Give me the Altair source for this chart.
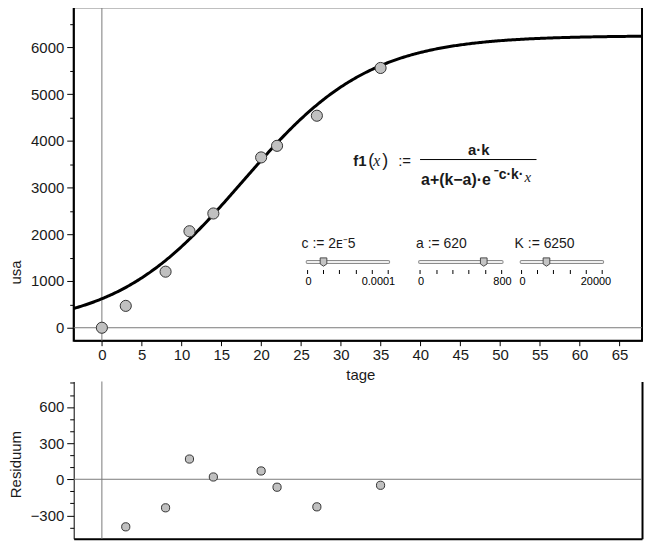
import altair as alt
import numpy as np
import pandas as pd

# ---------------- data ----------------
tage = [0, 3, 8, 11, 14, 20, 22, 27, 35]
usa = [0, 468, 1200, 2065, 2445, 3645, 3893, 4537, 5559]
res_tage = [3, 8, 11, 14, 20, 22, 27, 35]
residuum = [-395, -237, 168, 19, 69, -66, -229, -50]

param_names = ["c", "a", "K"]
param_values = [2e-5, 620, 6250]
param_text = ["2ᴇ⁻5", "620", "6250"]
slider_min = [0, 0, 0]
slider_max = [0.0001, 800, 20000]
slider_max_text = ["0.0001", "800", "20000"]

x_tick_values = list(range(0, 70, 5))
usa_tick_values = list(range(0, 7000, 500))
res_tick_values = list(range(-400, 900, 100))

x_domain = [-3.54, 67.835]
usa_domain = [-277, 6858]
res_domain = [-494, 812]

# model curve f1(x) = a*k / (a + (k-a) * e^(-c*k*x)) with the slider values
c_, a_, k_ = param_values
curve_x = np.linspace(x_domain[0], x_domain[1], 400)
curve_y = a_ * k_ / (a_ + (k_ - a_) * np.exp(-c_ * k_ * curve_x))

# ---------------- layout / style ----------------
F = "Liberation Sans"
SERIF = "Liberation Serif"
TXT = "#1a1a1a"
W, H1, H2, GAP = 571, 335, 158, 41
OX, OY = 72, 8  # page position of the upper plot's top-left corner


def px(xi):
    return round(xi - OX)


def py(yi):
    return round(yi - OY)


def label(s, xi, yi, size=15, weight="normal", font=F, style="normal", align="left", color=TXT):
    return alt.Chart(pd.DataFrame({"t": [s]})).mark_text(
        font=font, fontSize=size, fontWeight=weight, fontStyle=style,
        align=align, baseline="middle", color=color
    ).encode(x=alt.value(px(xi)), y=alt.value(py(yi)), text="t:N")


xscale = alt.Scale(domain=x_domain, nice=False, zero=False)
yscale1 = alt.Scale(domain=usa_domain, nice=False, zero=False)
yscale2 = alt.Scale(domain=res_domain, nice=False, zero=False)

xaxis_top = alt.Axis(
    values=x_tick_values, format="d", title="tage", grid=False,
    domainColor="black", domainWidth=1, tickColor="black", tickSize=5, tickWidth=1,
    labelFont=F, labelFontSize=15, labelColor=TXT, labelPadding=2,
    labelFlush=False, labelOverlap=False,
    titleFont=F, titleFontSize=15, titleFontWeight="normal", titleColor=TXT,
    titleX=288, titleY=34, titleBaseline="middle", titleAlign="center",
)
yaxis_top = alt.Axis(
    values=usa_tick_values, format="d", title="usa", grid=False,
    labelExpr="datum.value % 1000 === 0 ? datum.label : ''",
    domainColor="black", domainWidth=1, tickColor="black", tickSize=7, tickWidth=1,
    tickDash={"condition": {"test": "datum.value % 1000 !== 0", "value": [4, 20]}, "value": [20, 0]},
    labelFont=F, labelFontSize=15, labelColor=TXT, labelPadding=3, labelOverlap=False,
    titleFont=F, titleFontSize=15, titleFontWeight="normal", titleColor=TXT,
    titleX=-58, titleY=266, titleBaseline="middle", titleAlign="center",
)
xaxis_bot = alt.Axis(
    labels=False, ticks=False, grid=False, title=None,
    domainColor="black", domainWidth=2,
)
yaxis_bot = alt.Axis(
    values=res_tick_values, grid=False, title="Residuum",
    labelExpr="datum.value % 300 === 0 ? replace(format(datum.value, 'd'), '-', '\u2212') : ''",
    domainColor="black", domainWidth=1, tickColor="black", tickSize=7, tickWidth=1,
    tickDash={"condition": {"test": "datum.value % 300 !== 0", "value": [4, 20]}, "value": [20, 0]},
    labelFont=F, labelFontSize=15, labelColor=TXT, labelPadding=3, labelOverlap=False,
    titleFont=F, titleFontSize=15, titleFontWeight="normal", titleColor=TXT,
    titleX=-58, titleY=83, titleBaseline="middle", titleAlign="center",
)
yaxis_right = alt.Axis(
    orient="right", labels=False, ticks=False, grid=False, title=None,
    domainColor="black", domainWidth=2,
)

zero = pd.DataFrame({"v": [0]})

# ---------------- upper panel ----------------
vline = alt.Chart(zero).mark_rule(color="#7a7a7a", strokeWidth=1).encode(
    x=alt.X("v:Q", scale=xscale, axis=xaxis_top))
hline = alt.Chart(zero).mark_rule(color="#7a7a7a", strokeWidth=1).encode(
    y=alt.Y("v:Q", scale=yscale1, axis=yaxis_top))
curve = alt.Chart(pd.DataFrame({"x": curve_x, "y": curve_y})).mark_line(
    color="black", strokeWidth=3, clip=True
).encode(
    x=alt.X("x:Q", scale=xscale, axis=xaxis_top),
    y=alt.Y("y:Q", scale=yscale1, axis=yaxis_top),
)
pts = alt.Chart(pd.DataFrame({"tage": tage, "usa": usa})).mark_circle(
    size=125, fill="#c0c0c0", stroke="#333333", strokeWidth=1, opacity=1
).encode(
    x=alt.X("tage:Q", scale=xscale, axis=xaxis_top),
    y=alt.Y("usa:Q", scale=yscale1, axis=yaxis_top),
)
# invisible anchor fixing the left edge of the drawing 64 px left of the axis
anchor = alt.Chart(zero).mark_rule(opacity=0).encode(
    x=alt.value(-64), y=alt.value(100), y2=alt.value(101))

# formula
formula = [
    label("f1", 353, 162, 15, "bold"),
    label("(", 368, 162, 18),
    label("x", 373, 162, 16, font=SERIF, style="italic"),
    label(")", 382, 162, 18),
    label(":=", 398, 162, 15),
    label("a·k", 479, 151, 15, "bold", align="center"),
    alt.Chart(zero).mark_rule(color="black", strokeWidth=1).encode(
        x=alt.value(px(420)), x2=alt.value(px(537)), y=alt.value(py(161))),
    label("a+(k−a)·e", 421, 182, 16, "bold"),
    label("⁻c·k·", 494, 177, 14, "bold"),
    label("x", 525, 179, 15, font=SERIF, style="italic"),
]

# sliders
track_x0 = [306.7, 420.3, 521.7]
track_len = 81.7
name_x = [301, 416, 515]
max_right = [395, 511.7, 611.7]
track_y, tick_y0, tick_y1, num_y, name_y = 263.7, 272, 276, 284, 246
thumb_path = "M-0.8,-1 L0.8,-1 L0.8,0.45 L0,1 L-0.8,0.45 Z"
sliders = []
for i in range(3):
    x0 = track_x0[i]
    sliders.append(label(f"{param_names[i]}  := {param_text[i]}", name_x[i], name_y, 14))
    sliders.append(alt.Chart(zero).mark_rule(color="#8c8c8c", strokeWidth=4, strokeCap="round").encode(
        x=alt.value(px(x0)), x2=alt.value(px(x0 + track_len)), y=alt.value(py(track_y))))
    sliders.append(alt.Chart(zero).mark_rule(color="#efefef", strokeWidth=2, strokeCap="round").encode(
        x=alt.value(px(x0)), x2=alt.value(px(x0 + track_len)), y=alt.value(py(track_y))))
    tdf = pd.DataFrame({"p": [px(x0 + j * track_len / 5) for j in range(6)]})
    sliders.append(alt.Chart(tdf).mark_rule(color="black", strokeWidth=1).encode(
        x=alt.X("p:Q", scale=None, axis=None), y=alt.value(py(tick_y0)), y2=alt.value(py(tick_y1))))
    frac = (param_values[i] - slider_min[i]) / (slider_max[i] - slider_min[i])
    sliders.append(alt.Chart(zero).mark_point(
        shape=thumb_path, size=70, filled=True, fill="#c4c4c4", stroke="#4a4a4a", strokeWidth=1, opacity=1
    ).encode(x=alt.value(px(x0 + frac * track_len)), y=alt.value(py(track_y))))
    sliders.append(label("0", x0 + 1, num_y, 11, align="center", color="black"))
    sliders.append(label(slider_max_text[i], max_right[i], num_y, 11, align="right", color="black"))

top = alt.layer(vline, hline, curve, pts, anchor, *formula, *sliders).properties(
    width=W, height=H1, view=alt.ViewBackground(stroke="black", strokeWidth=2)
)

# ---------------- residual panel ----------------
vline2 = alt.Chart(zero).mark_rule(color="#7a7a7a", strokeWidth=1).encode(
    x=alt.X("v:Q", scale=xscale, axis=xaxis_bot))
hline2 = alt.Chart(zero).mark_rule(color="#7a7a7a", strokeWidth=1).encode(
    y=alt.Y("v:Q", scale=yscale2, axis=None))
rpts = alt.Chart(pd.DataFrame({"tage": res_tage, "res": residuum})).mark_circle(
    size=68, fill="#c0c0c0", stroke="#333333", strokeWidth=1, opacity=1
).encode(
    x=alt.X("tage:Q", scale=xscale, axis=xaxis_bot),
    y=alt.Y("res:Q", scale=yscale2, axis=yaxis_bot),
)
rborder = alt.Chart(zero).mark_rule(opacity=0).encode(
    y=alt.Y("v:Q", scale=yscale2, axis=yaxis_right))

bottom = alt.layer(vline2, hline2, rpts, rborder).resolve_axis(y="independent").properties(
    width=W, height=H2, view=alt.ViewBackground(stroke=None)
)

chart = alt.vconcat(top, bottom, spacing=GAP, bounds="flush").properties(
    padding={"left": 0, "top": -4, "right": 0, "bottom": 0}
).configure(background="white")

chart.save("out.html", embed_options={"renderer": "svg", "actions": False})
